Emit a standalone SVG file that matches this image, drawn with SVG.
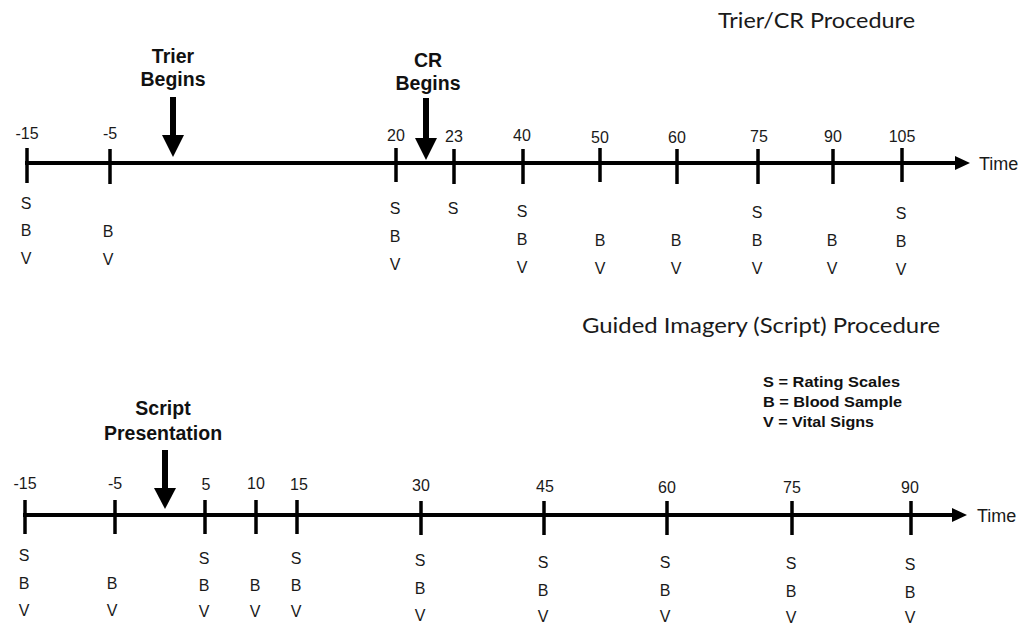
<svg xmlns="http://www.w3.org/2000/svg" width="1031" height="624" viewBox="0 0 1031 624">
<defs>
<style>
.axis{stroke:#000;stroke-width:4;fill:none}
.tick{stroke:#000;stroke-width:3.5}
.num{font-family:"Liberation Sans",Arial,sans-serif;font-size:16px;fill:#1a1a1a;text-anchor:middle}
.let{font-family:"Liberation Sans",Arial,sans-serif;font-size:16px;fill:#1a1a1a;text-anchor:middle}
.bold{font-family:"Liberation Sans",Arial,sans-serif;font-size:19.5px;font-weight:bold;fill:#111;text-anchor:middle}
.title{font-family:Lato,"Noto Sans",sans-serif;font-size:21px;fill:#1a1a1a}
.time{font-family:"Liberation Sans",Arial,sans-serif;font-size:18px;fill:#1a1a1a}
.leg{font-family:"Liberation Sans",Arial,sans-serif;font-size:15px;font-weight:bold;fill:#111}
.head{fill:#000}
.shaft{stroke:#000;stroke-width:6}
</style>
</defs>
<rect width="1031" height="624" fill="#fff"/>

<!-- Top: Trier/CR Procedure -->
<g id="title-top"><text class="title" x="718" y="28" textLength="197" lengthAdjust="spacingAndGlyphs">Trier/CR Procedure</text></g>

<g id="connectors">
  <line class="axis" x1="25" y1="163" x2="958" y2="163"/>
  <polygon class="head" points="955,156 970,163 955,170"/>
  <line class="axis" x1="23" y1="515" x2="955" y2="515"/>
  <polygon class="head" points="952,508 967,515 952,522"/>
  <line class="shaft" x1="173" y1="97" x2="173" y2="137"/>
  <polygon class="head" points="162,135 184,135 173,157"/>
  <line class="shaft" x1="426" y1="98" x2="426" y2="140"/>
  <polygon class="head" points="415,138 437,138 426,160"/>
  <line class="shaft" x1="165" y1="450" x2="165" y2="490"/>
  <polygon class="head" points="154,488 176,488 165,509"/>
</g>

<g id="time-top"><text class="time" x="979" y="170">Time</text></g>
<g id="time-bottom"><text class="time" x="977" y="522">Time</text></g>

<g id="trier-begins"><text class="bold" x="173" y="63">Trier</text><text class="bold" x="173" y="86">Begins</text></g>
<g id="cr-begins"><text class="bold" x="428" y="67">CR</text><text class="bold" x="428" y="90">Begins</text></g>

<g id="top-ticks">
  <g id="t-m15"><line class="tick" x1="27" y1="148" x2="27" y2="183"/><text class="num" x="27" y="139">-15</text><text class="let" x="26" y="209">S</text><text class="let" x="26" y="236">B</text><text class="let" x="26" y="264">V</text></g>
  <g id="t-m5"><line class="tick" x1="110" y1="149" x2="110" y2="184"/><text class="num" x="110" y="139">-5</text><text class="let" x="108" y="237">B</text><text class="let" x="108" y="265">V</text></g>
  <g id="t-20"><line class="tick" x1="396" y1="148" x2="396" y2="182"/><text class="num" x="396" y="141">20</text><text class="let" x="395" y="214">S</text><text class="let" x="395" y="242">B</text><text class="let" x="395" y="270">V</text></g>
  <g id="t-23"><line class="tick" x1="454" y1="149" x2="454" y2="184"/><text class="num" x="454" y="142">23</text><text class="let" x="453" y="214">S</text></g>
  <g id="t-40"><line class="tick" x1="523" y1="149" x2="523" y2="184"/><text class="num" x="522" y="141">40</text><text class="let" x="522" y="217">S</text><text class="let" x="522" y="245">B</text><text class="let" x="522" y="273">V</text></g>
  <g id="t-50"><line class="tick" x1="600" y1="148" x2="600" y2="182"/><text class="num" x="600" y="143">50</text><text class="let" x="600" y="246">B</text><text class="let" x="600" y="274">V</text></g>
  <g id="t-60"><line class="tick" x1="677" y1="149" x2="677" y2="184"/><text class="num" x="677" y="143">60</text><text class="let" x="676" y="246">B</text><text class="let" x="676" y="274">V</text></g>
  <g id="t-75"><line class="tick" x1="758" y1="149" x2="758" y2="184"/><text class="num" x="759" y="142">75</text><text class="let" x="757" y="218">S</text><text class="let" x="757" y="246">B</text><text class="let" x="757" y="274">V</text></g>
  <g id="t-90"><line class="tick" x1="833" y1="149" x2="833" y2="184"/><text class="num" x="833" y="142">90</text><text class="let" x="832" y="246">B</text><text class="let" x="832" y="274">V</text></g>
  <g id="t-105"><line class="tick" x1="902" y1="148" x2="902" y2="182"/><text class="num" x="902" y="142">105</text><text class="let" x="901" y="219">S</text><text class="let" x="901" y="247">B</text><text class="let" x="901" y="275">V</text></g>
</g>

<!-- Bottom: Guided Imagery -->
<g id="title-bottom"><text class="title" x="582" y="333" textLength="358" lengthAdjust="spacingAndGlyphs">Guided Imagery (Script) Procedure</text></g>

<g id="legend">
  <text class="leg" x="763" y="387" textLength="137" lengthAdjust="spacingAndGlyphs">S = Rating Scales</text>
  <text class="leg" x="763" y="407" textLength="139" lengthAdjust="spacingAndGlyphs">B = Blood Sample</text>
  <text class="leg" x="763" y="427" textLength="111" lengthAdjust="spacingAndGlyphs">V = Vital Signs</text>
</g>

<g id="script-presentation"><text class="bold" x="163" y="415">Script</text><text class="bold" x="163" y="440">Presentation</text></g>

<g id="bottom-ticks">
  <g id="b-m15"><line class="tick" x1="25" y1="500" x2="25" y2="534"/><text class="num" x="25" y="489">-15</text><text class="let" x="24" y="561">S</text><text class="let" x="24" y="589">B</text><text class="let" x="24" y="616">V</text></g>
  <g id="b-m5"><line class="tick" x1="115" y1="500" x2="115" y2="534"/><text class="num" x="115" y="489">-5</text><text class="let" x="112" y="589">B</text><text class="let" x="112" y="616">V</text></g>
  <g id="b-5"><line class="tick" x1="205" y1="500" x2="205" y2="534"/><text class="num" x="206" y="490">5</text><text class="let" x="204" y="564">S</text><text class="let" x="204" y="591">B</text><text class="let" x="204" y="617">V</text></g>
  <g id="b-10"><line class="tick" x1="256" y1="500" x2="256" y2="534"/><text class="num" x="256" y="489">10</text><text class="let" x="255" y="591">B</text><text class="let" x="255" y="617">V</text></g>
  <g id="b-15"><line class="tick" x1="297" y1="500" x2="297" y2="534"/><text class="num" x="299" y="490">15</text><text class="let" x="296" y="564">S</text><text class="let" x="296" y="591">B</text><text class="let" x="296" y="617">V</text></g>
  <g id="b-30"><line class="tick" x1="421" y1="501" x2="421" y2="535"/><text class="num" x="421" y="491">30</text><text class="let" x="420" y="566">S</text><text class="let" x="420" y="594">B</text><text class="let" x="420" y="621">V</text></g>
  <g id="b-45"><line class="tick" x1="544" y1="501" x2="544" y2="535"/><text class="num" x="545" y="492">45</text><text class="let" x="543" y="568">S</text><text class="let" x="543" y="596">B</text><text class="let" x="543" y="622">V</text></g>
  <g id="b-60"><line class="tick" x1="667" y1="501" x2="667" y2="535"/><text class="num" x="667" y="493">60</text><text class="let" x="665" y="568">S</text><text class="let" x="665" y="596">B</text><text class="let" x="665" y="622">V</text></g>
  <g id="b-75"><line class="tick" x1="792" y1="501" x2="792" y2="535"/><text class="num" x="792" y="493">75</text><text class="let" x="791" y="569">S</text><text class="let" x="791" y="597">B</text><text class="let" x="791" y="623">V</text></g>
  <g id="b-90"><line class="tick" x1="911" y1="501" x2="911" y2="535"/><text class="num" x="910" y="493">90</text><text class="let" x="910" y="570">S</text><text class="let" x="910" y="598">B</text><text class="let" x="910" y="623">V</text></g>
</g>
</svg>
